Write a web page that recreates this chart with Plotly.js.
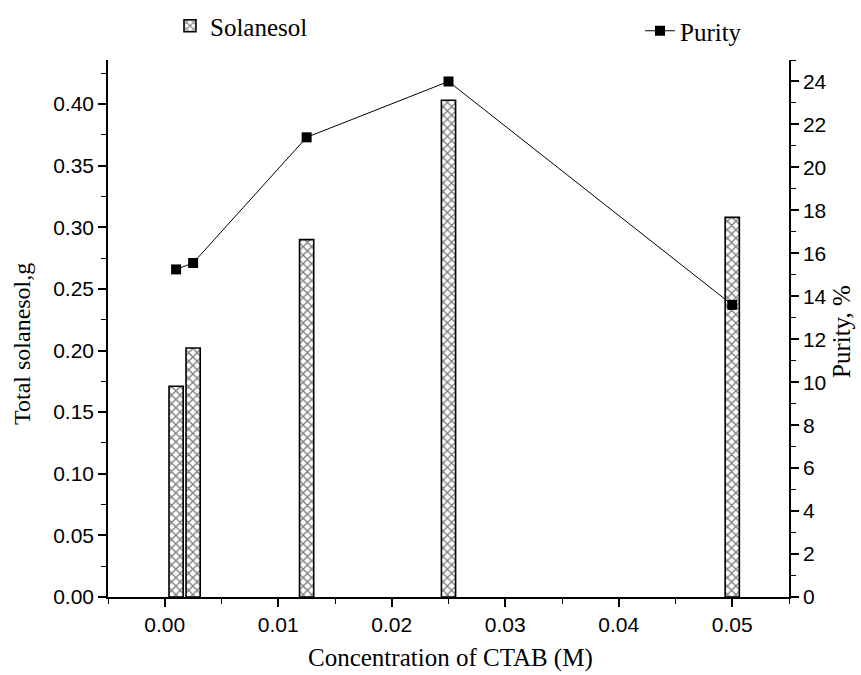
<!DOCTYPE html>
<html><head><meta charset="utf-8">
<script src="https://cdn.plot.ly/plotly-3.0.1.min.js"></script>
<style>body{margin:0;background:#fff}#c{width:861px;height:675px}</style>
</head><body><div id="c"></div>
<script>
const conc = [0.001, 0.0025, 0.0125, 0.025, 0.05];
const solanesol = [0.171, 0.202, 0.290, 0.403, 0.308];
const purity = [15.25, 15.55, 21.4, 24.0, 13.6];
const xTickVals = [0, 0.01, 0.02, 0.03, 0.04, 0.05];
const xTickText = ['0.00', '0.01', '0.02', '0.03', '0.04', '0.05'];
const yTickVals = [0, 0.05, 0.1, 0.15, 0.2, 0.25, 0.3, 0.35, 0.4];
const yTickText = ['0.00', '0.05', '0.10', '0.15', '0.20', '0.25', '0.30', '0.35', '0.40'];
const xTitle = 'Concentration of CTAB (M)';
const yTitle = 'Total solanesol,g';
const y2Title = 'Purity, %';

const serif = 'Liberation Serif, Times New Roman, serif';
const sans = 'Liberation Sans, Arial, sans-serif';

const traces = [
  {type:'bar', x:conc, y:solanesol, name:'Solanesol', width:0.00125,
   marker:{color:'white', line:{color:'black', width:1.6},
     pattern:{shape:'x', fgcolor:'black', bgcolor:'white', size:6, solidity:0.4, fillmode:'overlay'}},
   legend:'legend', xaxis:'x', yaxis:'y'},
  {type:'scatter', mode:'lines+markers', x:conc, y:purity, name:'Purity',
   line:{color:'black', width:1}, marker:{symbol:'square', size:10, color:'black'},
   legend:'legend2', xaxis:'x', yaxis:'y2'}
];

const tickCommon = {ticks:'outside', ticklen:8, tickwidth:1.5, tickcolor:'black',
  showline:true, linecolor:'black', linewidth:1.5, showgrid:false, zeroline:false,
  automargin:false, tickfont:{family:sans, size:21, color:'black'}};

const L = 108, R = 72, T = 60, B = 78, W = 861, H = 675;
const pw = W - L - R, ph = H - T - B;
const px = v => (v - L) / pw;
const py = v => (H - B - v) / ph;

const layout = {
  width:W, height:H,
  margin:{l:L, r:R, t:T, b:B, autoexpand:false},
  paper_bgcolor:'white', plot_bgcolor:'white',
  showlegend:true,
  xaxis:Object.assign({range:[-0.005,0.055], tickvals:xTickVals, ticktext:xTickText,
    minor:{dtick:0.005, tick0:0, ticks:'outside', ticklen:5, tickwidth:1.2, tickcolor:'black'}}, tickCommon),
  yaxis:Object.assign({range:[0,0.4357], tickvals:yTickVals, ticktext:yTickText,
    minor:{dtick:0.025, tick0:0, ticks:'outside', ticklen:5, tickwidth:1.2, tickcolor:'black'}}, tickCommon),
  yaxis2:Object.assign({overlaying:'y', side:'right', range:[0,25], dtick:2, tick0:0,
    minor:{dtick:1, tick0:0, ticks:'outside', ticklen:5, tickwidth:1.2, tickcolor:'black'}}, tickCommon),
  annotations:[
    {text:xTitle, xref:'paper', yref:'paper', x:px(450), y:py(658), showarrow:false,
     xanchor:'center', yanchor:'middle', font:{family:serif, size:25, color:'black'}},
    {text:yTitle, xref:'paper', yref:'paper', x:px(22), y:py(344), showarrow:false, textangle:-90,
     xanchor:'center', yanchor:'middle', font:{family:serif, size:24, color:'black'}},
    {text:y2Title, xref:'paper', yref:'paper', x:px(841), y:py(332), showarrow:false, textangle:-90,
     xanchor:'center', yanchor:'middle', font:{family:serif, size:25, color:'black'}}
  ],
  legend:{xref:'container', yref:'container', x:170/W, xanchor:'left', y:1-3/H, yanchor:'top',
    font:{family:serif, size:25, color:'black'}, bgcolor:'rgba(0,0,0,0)'},
  legend2:{xref:'container', yref:'container', x:640/W, xanchor:'left', y:1-8/H, yanchor:'top',
    font:{family:serif, size:25, color:'black'}, bgcolor:'rgba(0,0,0,0)'}
};

Plotly.newPlot('c', traces, layout, {displayModeBar:false});
</script></body></html>
